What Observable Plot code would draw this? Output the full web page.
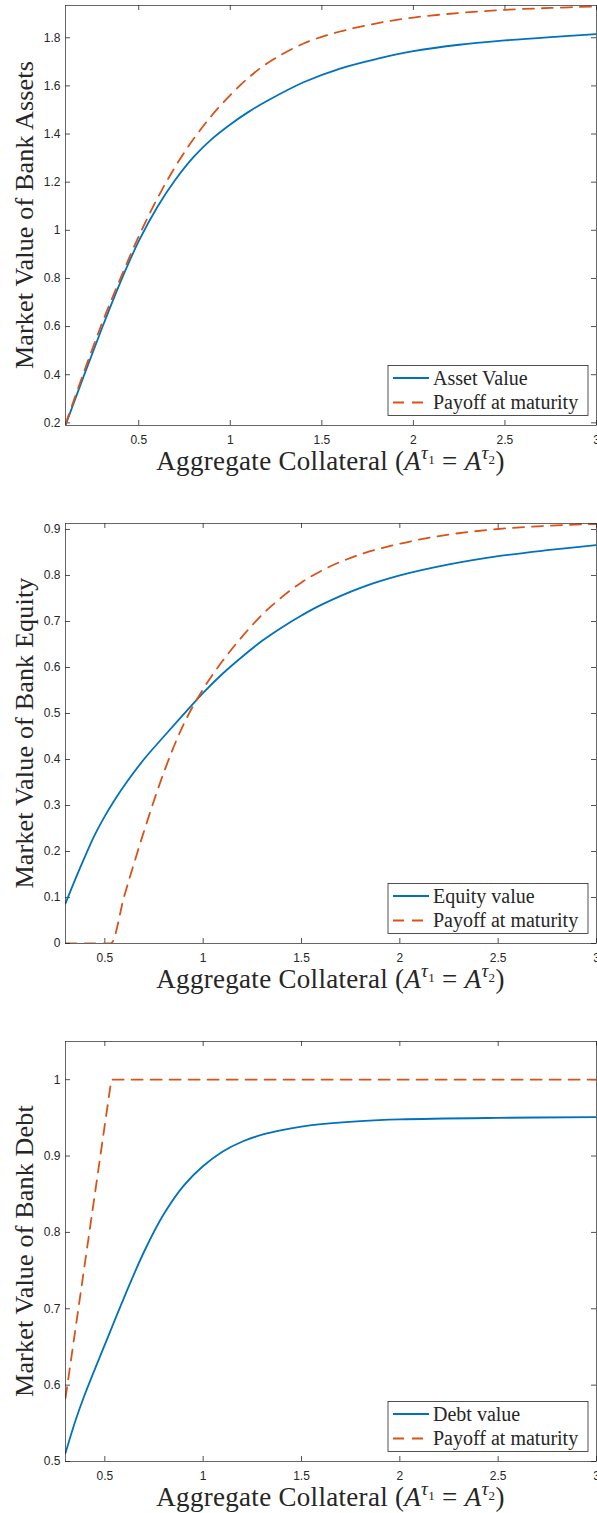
<!DOCTYPE html>
<html>
<head>
<meta charset="utf-8">
<script src="https://cdn.jsdelivr.net/npm/d3@7"></script>
<script src="https://cdn.jsdelivr.net/npm/@observablehq/plot@0.6"></script>
<style>
  html, body { margin: 0; padding: 0; background: #fff; overflow: hidden; }
  #charts > div { display: block; line-height: 0; }
  svg { display: block; }
</style>
</head>
<body>
<div id="charts"></div>
<script>
// ---- Panel 1: bank assets ----
const assetX = [0.1, 0.2, 0.3, 0.4, 0.5, 0.6, 0.7, 0.8, 0.9, 1.0, 1.1, 1.2, 1.4, 1.6, 1.8, 2.0, 2.25, 2.5, 2.75, 3.0];
const assetValue = [0.19, 0.395, 0.595, 0.785, 0.955, 1.095, 1.21, 1.305, 1.38, 1.44, 1.492, 1.537, 1.615, 1.672, 1.712, 1.744, 1.771, 1.789, 1.803, 1.815];
const assetPayoff = [0.195, 0.41, 0.615, 0.80, 0.975, 1.13, 1.265, 1.38, 1.478, 1.562, 1.634, 1.693, 1.776, 1.826, 1.860, 1.884, 1.903, 1.916, 1.924, 1.93];
const assetTicksX = [0.5, 1, 1.5, 2, 2.5, 3];
const assetTicksY = [0.2, 0.4, 0.6, 0.8, 1, 1.2, 1.4, 1.6, 1.8];

// ---- Panel 2: bank equity ----
const equityX = [0.3, 0.35, 0.4, 0.45, 0.5, 0.55, 0.6, 0.7, 0.8, 0.9, 1.0, 1.1, 1.2, 1.3, 1.4, 1.5, 1.6, 1.8, 2.0, 2.25, 2.5, 2.75, 3.0];
const equityValue = [0.087, 0.140, 0.190, 0.237, 0.277, 0.312, 0.344, 0.401, 0.450, 0.498, 0.545, 0.587, 0.624, 0.658, 0.687, 0.713, 0.736, 0.773, 0.800, 0.824, 0.842, 0.855, 0.866];
const equityPayoffX = [0.3, 0.53, 0.6, 0.7, 0.8, 0.9, 1.0, 1.1, 1.2, 1.3, 1.4, 1.5, 1.6, 1.8, 2.0, 2.25, 2.5, 2.75, 3.0];
const equityPayoff = [0, 0, 0.105, 0.245, 0.372, 0.476, 0.553, 0.615, 0.668, 0.715, 0.753, 0.785, 0.810, 0.846, 0.869, 0.889, 0.901, 0.908, 0.912];
const equityTicksX = [0.5, 1, 1.5, 2, 2.5, 3];
const equityTicksY = [0, 0.1, 0.2, 0.3, 0.4, 0.5, 0.6, 0.7, 0.8, 0.9];

// ---- Panel 3: bank debt ----
const debtX = [0.3, 0.35, 0.4, 0.5, 0.6, 0.7, 0.8, 0.9, 1.0, 1.1, 1.2, 1.3, 1.4, 1.5, 1.6, 1.8, 2.0, 2.5, 3.0];
const debtValue = [0.511, 0.553, 0.589, 0.653, 0.716, 0.775, 0.824, 0.861, 0.887, 0.906, 0.919, 0.928, 0.934, 0.9385, 0.9418, 0.9458, 0.948, 0.950, 0.951];
const debtPayoffX = [0.3, 0.4, 0.5, 0.533, 1.0, 2.0, 3.0];
const debtPayoff = [0.583, 0.762, 0.941, 1.0, 1.0, 1.0, 1.0];
const debtTicksX = [0.5, 1, 1.5, 2, 2.5, 3];
const debtTicksY = [0.5, 0.6, 0.7, 0.8, 0.9, 1];

const BLUE = "#0072BD";
const ORANGE = "#D95319";
const INK = "#262626";
const SERIF = "'Liberation Serif', 'Times New Roman', serif";
const WIDTH = 597;
const M = {top: 5, left: 65, right: 1};
const INNER_H = 420;
const INNER_W = WIDTH - M.left - M.right;

function zip(xs, ys) { return xs.map((x, i) => ({x, y: ys[i]})); }

function panel({xDomain, yDomain, xTicks, yTicks, solid, dashed, dashedCurve, yLabel, legendLabels, height}) {
  const marginBottom = height - M.top - INNER_H;
  const svg = Plot.plot({
    width: WIDTH,
    height,
    marginTop: M.top,
    marginLeft: M.left,
    marginRight: M.right,
    marginBottom,
    style: {fontFamily: "'Liberation Sans', Arial, sans-serif", fontSize: "12px", color: INK, background: "#fff"},
    x: {domain: xDomain},
    y: {domain: yDomain},
    marks: [
      // inward tick marks on all four sides
      Plot.tickX(xTicks, {x: d => d, insetTop: INNER_H - 5, stroke: INK, strokeWidth: 0.8}),
      Plot.tickX(xTicks, {x: d => d, insetBottom: INNER_H - 5, stroke: INK, strokeWidth: 0.8}),
      Plot.tickY(yTicks, {y: d => d, insetRight: INNER_W - 5, stroke: INK, strokeWidth: 0.8}),
      Plot.tickY(yTicks, {y: d => d, insetLeft: INNER_W - 5, stroke: INK, strokeWidth: 0.8}),
      Plot.axisX({ticks: xTicks, tickSize: 0, tickPadding: 10, tickFormat: d => String(d), label: null, fill: INK}),
      Plot.axisY({ticks: yTicks, tickSize: 0, tickPadding: 5, tickFormat: d => String(d), label: null, fill: INK}),
      Plot.line(solid, {x: "x", y: "y", stroke: BLUE, strokeWidth: 1.8, curve: "catmull-rom", clip: true}),
      Plot.line(dashed, {x: "x", y: "y", stroke: ORANGE, strokeWidth: 1.8, strokeDasharray: "11 8", curve: dashedCurve, clip: true}),
      Plot.frame({stroke: INK, strokeWidth: 0.7})
    ]
  });

  const g = d3.select(svg);
  const bottom = M.top + INNER_H;
  const right = WIDTH - M.right;

  // y-axis title
  g.append("text")
    .attr("transform", `translate(33, ${M.top + INNER_H / 2}) rotate(-90)`)
    .attr("text-anchor", "middle")
    .attr("font-family", SERIF)
    .attr("font-size", 26)
    .attr("letter-spacing", 0.2)
    .attr("fill", INK)
    .text(yLabel);

  // x-axis title with the math expression (A^{τ1} = A^{τ2})
  const xt = g.append("text")
    .attr("x", M.left + INNER_W / 2)
    .attr("y", bottom + 45)
    .attr("text-anchor", "middle")
    .attr("font-family", SERIF)
    .attr("font-size", 27)
    .attr("letter-spacing", 0.3)
    .attr("fill", INK)
    .style("white-space", "pre");
  xt.append("tspan").text("Aggregate Collateral (");
  for (const [k, sub] of [[0, "1"], [1, "2"]]) {
    xt.append("tspan").attr("font-style", "italic").text("A");
    xt.append("tspan").attr("font-style", "italic").attr("font-size", 19).attr("dy", -11).text("τ");
    xt.append("tspan").attr("font-size", 13).attr("dy", 5).text(sub);
    xt.append("tspan").attr("font-size", 27).attr("dy", 6).text(k === 0 ? " = " : ")");
  }

  // legend box, lower right
  const lw = 200, lh = 50;
  const lx = right - 8 - lw, ly = bottom - 9.5 - lh;
  const lg = g.append("g");
  lg.append("rect").attr("x", lx).attr("y", ly).attr("width", lw).attr("height", lh)
    .attr("fill", "#fff").attr("stroke", INK).attr("stroke-width", 0.8);
  const entries = [
    {label: legendLabels[0], color: BLUE, dash: null, dy: 12.5},
    {label: legendLabels[1], color: ORANGE, dash: "11 8", dy: 37}
  ];
  for (const e of entries) {
    lg.append("line").attr("x1", lx + 5).attr("x2", lx + 41)
      .attr("y1", ly + e.dy).attr("y2", ly + e.dy)
      .attr("stroke", e.color).attr("stroke-width", 1.8)
      .attr("stroke-dasharray", e.dash);
    lg.append("text").attr("x", lx + 45).attr("y", ly + e.dy + 6.5)
      .attr("text-anchor", "start")
      .attr("font-family", SERIF).attr("font-size", 20).attr("fill", INK)
      .text(e.label);
  }
  return svg;
}

const root = document.getElementById("charts");
const panels = [
  {
    xDomain: [0.1, 3], yDomain: [0.189, 1.934], xTicks: assetTicksX, yTicks: assetTicksY,
    solid: zip(assetX, assetValue), dashed: zip(assetX, assetPayoff), dashedCurve: "catmull-rom",
    yLabel: "Market Value of Bank Assets", legendLabels: ["Asset Value", "Payoff at maturity"], height: 518
  },
  {
    xDomain: [0.3, 3], yDomain: [0, 0.913], xTicks: equityTicksX, yTicks: equityTicksY,
    solid: zip(equityX, equityValue), dashed: zip(equityPayoffX, equityPayoff), dashedCurve: "monotone-x",
    yLabel: "Market Value of Bank Equity", legendLabels: ["Equity value", "Payoff at maturity"], height: 518
  },
  {
    xDomain: [0.3, 3], yDomain: [0.5, 1.05], xTicks: debtTicksX, yTicks: debtTicksY,
    solid: zip(debtX, debtValue), dashed: zip(debtPayoffX, debtPayoff), dashedCurve: "linear",
    yLabel: "Market Value of Bank Debt", legendLabels: ["Debt value", "Payoff at maturity"], height: 477
  }
];
for (const p of panels) {
  const d = document.createElement("div");
  d.appendChild(panel(p));
  root.appendChild(d);
}
</script>
</body>
</html>
